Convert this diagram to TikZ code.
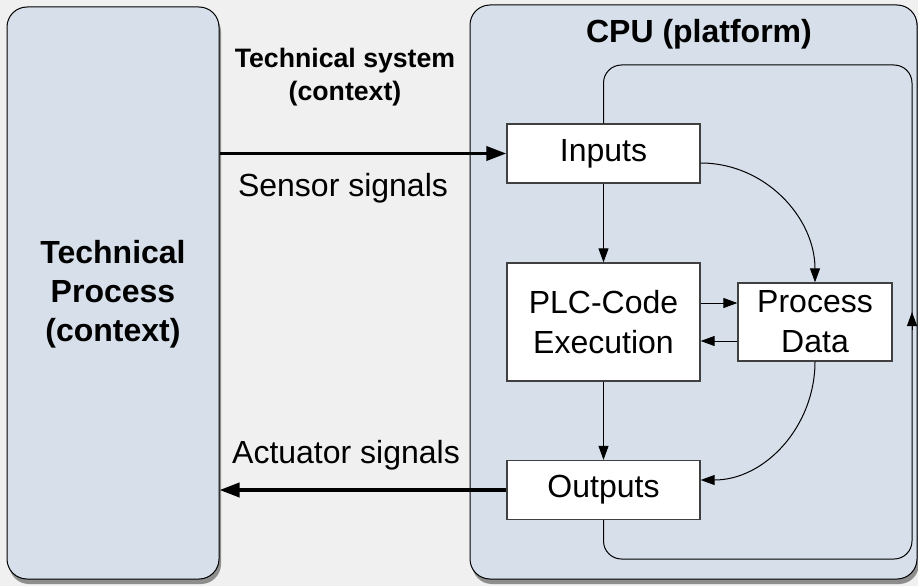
\documentclass[tikz,border=0pt]{standalone}
\usepackage{fontspec}
\setmainfont{Liberation Sans}
\usepackage{tikz}
\usetikzlibrary{arrows.meta, shadows}

\definecolor{boxblue}{HTML}{D6DFEA}
\definecolor{bggray}{HTML}{F0F0F0}
\definecolor{shadowgray}{HTML}{8E8E8E}
\definecolor{unitgray}{HTML}{404040}

\begin{document}
\begin{tikzpicture}[x=1pt, y=-1pt,
    bigbox/.style={draw=black, line width=1pt, fill=boxblue, rounded corners=20pt,
        drop shadow={fill=shadowgray, opacity=1, shadow xshift=2pt, shadow yshift=-5pt}},
    unit/.style={draw=unitgray, line width=1.3pt, fill=white, inner sep=0pt,
        align=center, font=\fontsize{32}{40}\selectfont},
    big/.style={font=\fontsize{32}{39}\selectfont\bfseries, align=center},
    thinarrow/.style={line width=1pt, -{Triangle[length=14pt, width=10pt]}},
    thickarrow/.style={line width=3.6pt, -{Triangle[length=20pt, width=14pt]}}]
    \fill[bggray] (0,0) rectangle (918,586);
    \useasboundingbox (0,0) rectangle (918,586);

    % context and platform
    \node[bigbox, minimum width=212pt, minimum height=572pt] (p) at (113,293) {};
    \node[bigbox, minimum width=447pt, minimum height=574pt] (c) at (693.5,292) {};
    \node[big] at (113,294) {Technical\\Process\\(context)};
    \node[big, anchor=base] (t) at (699,43) {CPU (platform)};
    \node[font=\fontsize{26.67}{33}\selectfont\bfseries, align=center] (s) at (345,77)
        {Technical system\\(context)};

    % units on the CPU
    \node[unit, minimum width=193pt, minimum height=59pt] (i) at (603.5,153.5) {Inputs};
    \node[unit, minimum width=193pt, minimum height=118pt] (e) at (603.5,322) {PLC-Code\\Execution};
    \node[unit, minimum width=154pt, minimum height=78pt] (d) at (815,322) {Process\\Data};
    \node[unit, minimum width=193pt, minimum height=59pt] (o) at (603.5,490) {Outputs};

    % cycle round the units
    \coordinate (m) at (912,312);
    \draw[line width=1pt, rounded corners=18pt] (o.south) -- (603.5,559) -- (912,559) -- (m);
    \draw[line width=1pt, -{Triangle[length=14pt, width=10pt]}] (912,330) -- (m);
    \draw[line width=1pt, rounded corners=18pt] (m) -- (912,65) -- (603.5,65) -- (i.north);

    % signals
    \draw[thickarrow] (p.east |- i.west) -- (i.west);
    \draw[thickarrow] (o.west) -- (p.east |- o.west);
    \node[font=\fontsize{32}{39}\selectfont, anchor=base] (ss) at (343,196) {Sensor signals};
    \node[font=\fontsize{32}{39}\selectfont, anchor=base] (as) at (346,463) {Actuator signals};

    % data flow
    \coordinate (d1) at ([yshift=19pt]d.west);
    \coordinate (d2) at ([yshift=-19pt]d.west);
    \draw[thinarrow] (i.south) -- (e.north);
    \draw[thinarrow] (e.south) -- (o.north);
    \draw[thinarrow] (e.east |- d1) -- (d1);
    \draw[thinarrow] (d2) -- (e.east |- d2);
    \draw[thinarrow] ([yshift=-9.5pt]i.east) to[out=0, in=90] (d.north);
    \draw[thinarrow] (d.south) to[out=-90, in=0] ([yshift=10pt]o.east);
\end{tikzpicture}
\end{document}
